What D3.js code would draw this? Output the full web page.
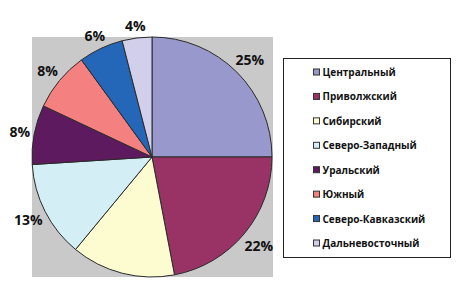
<!DOCTYPE html>
<html><head><meta charset="utf-8">
<script src="https://cdn.jsdelivr.net/npm/d3@7/dist/d3.min.js"></script>
<style>body{margin:0;background:#fff;}svg{display:block;}</style>
</head><body>
<svg id="c" width="458" height="284"></svg>
<script>
const categories = ["Центральный","Приволжский","Сибирский","Северо-Западный","Уральский","Южный","Северо-Кавказский","Дальневосточный"];
const values = [25,22,14,13,8,8,6,4];
const shownLabels = ["25%","22%","","13%","8%","8%","6%","4%"];
const colors = ["#9898CC","#993366","#FCFCD0","#D4EEF6","#5E1A5E","#F48080","#2467B8","#D2CFEA"];

const svg = d3.select("#c");
const cx = 152, cy = 157, r = 120;
svg.append("rect").attr("x",32).attr("y",37).attr("width",241).attr("height",240).attr("fill","#C9C9C9");

const pie = d3.pie().sort(null).value(d=>d)(values);
const arc = d3.arc().innerRadius(0).outerRadius(r);
const g = svg.append("g").attr("transform",`translate(${cx},${cy})`);
g.selectAll("path").data(pie).join("path")
  .attr("d",arc).attr("fill",(d,i)=>colors[i])
  .attr("stroke","#2a2a2a").attr("stroke-width",1);

g.selectAll("text").data(pie).join("text")
  .each(function(d,i){
    const a = (d.startAngle+d.endAngle)/2;
    const t = shownLabels[i];
    const w = t.length*7.5, h = 12;
    const dist = r + 6 + Math.abs(Math.sin(a))*w/2 + Math.abs(Math.cos(a))*h/2;
    d3.select(this).attr("x",Math.sin(a)*dist).attr("y",-Math.cos(a)*dist)
      .attr("text-anchor","middle").attr("dominant-baseline","central")
      .attr("font-family","'Open Sans', sans-serif").attr("font-weight","bold")
      .attr("font-size",14).attr("fill","#111").text(t);
  });

// legend
svg.append("rect").attr("x",283.5).attr("y",58.5).attr("width",167).attr("height",199)
  .attr("fill","#fff").attr("stroke","#222").attr("stroke-width",1);
const y = d3.scalePoint().domain(categories).range([72,243]);
const lg = svg.append("g");
categories.forEach((c,i)=>{
  lg.append("rect").attr("x",313.5).attr("y",y(c)-3).attr("width",6).attr("height",6)
    .attr("fill",colors[i]).attr("stroke","#333").attr("stroke-width",1);
  lg.append("text").attr("x",322.5).attr("y",y(c)).attr("dominant-baseline","central")
    .attr("font-family","'Open Sans', sans-serif").attr("font-weight","bold")
    .attr("font-size",10).attr("fill","#111").text(c);
});
</script>
</body></html>
